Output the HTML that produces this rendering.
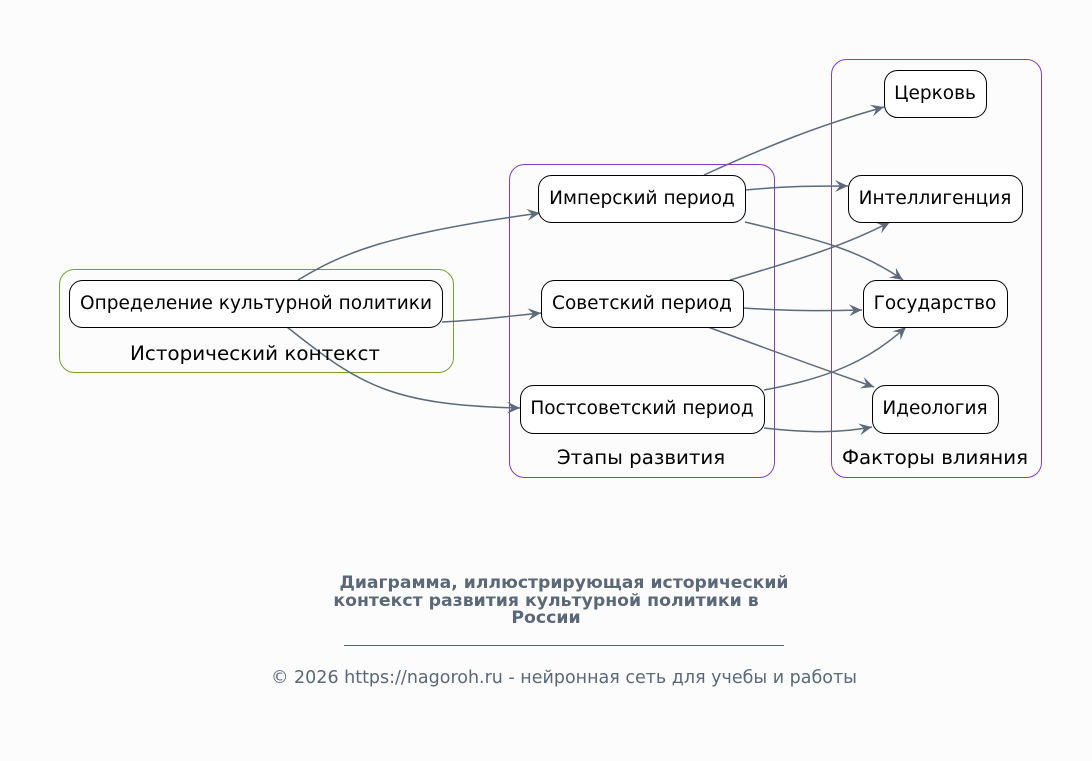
<!DOCTYPE html>
<html><head><meta charset="utf-8"><style>
html,body{margin:0;padding:0;background:#fcfcfc;}
svg{display:block;font-family:"DejaVu Sans","Liberation Sans",sans-serif;}
</style></head><body>
<svg width="1092" height="761" viewBox="0 0 1092 761" xmlns="http://www.w3.org/2000/svg">
<defs>
<marker id="a" viewBox="0 0 14 14" refX="13" refY="7" markerWidth="14" markerHeight="14" markerUnits="userSpaceOnUse" orient="auto">
<path d="M0,1 L13,7 L0,13 L5,7 Z" fill="#5c6a7a"/>
</marker>
</defs>
<rect x="0" y="0" width="1092" height="761" fill="#fcfcfc"/>
<rect x="59.5" y="269.5" width="394" height="103" rx="15" fill="none" stroke="#7aa02c" stroke-width="1"/>
<rect x="509.5" y="164.5" width="265" height="313" rx="15" fill="none" stroke="#7b3fc8" stroke-width="1"/>
<rect x="831.5" y="59.5" width="210" height="418" rx="15" fill="none" stroke="#7b3fc8" stroke-width="1"/>
<g fill="none" stroke="#5c6a7a" stroke-width="1.5" marker-end="url(#a)">
<path d="M298,280 C340,255 380,235 540,213"/>
<path d="M442,322 C480,320 510,316 541,313"/>
<path d="M287,327 C360,385 390,405 520,408"/>
<path d="M704,175 C770,145 820,125 884,107"/>
<path d="M745,190 C790,186 810,186 848,186"/>
<path d="M745,222 C820,240 860,250 903,280"/>
<path d="M730,280 C790,262 840,248 890,222"/>
<path d="M743,308 C790,311 820,311 862,310"/>
<path d="M708,327 C770,350 820,368 874,387"/>
<path d="M764,390 C830,378 870,360 906,327"/>
<path d="M764,428 C810,433 840,433 872,427"/>
</g>
<g fill="#fff" stroke="#000" stroke-width="1">
<rect x="69.5" y="280.5" width="373" height="47" rx="13"/>
<rect x="538.5" y="175.5" width="207" height="47" rx="13"/>
<rect x="541.5" y="280.5" width="202" height="47" rx="13"/>
<rect x="520.5" y="385.5" width="244" height="48" rx="13"/>
<rect x="884.5" y="70.5" width="102" height="47" rx="13"/>
<rect x="848.5" y="175.5" width="174" height="47" rx="13"/>
<rect x="863.5" y="280.5" width="144" height="47" rx="13"/>
<rect x="872.5" y="385.5" width="126" height="48" rx="13"/>
</g>
<g font-size="18.5" fill="#000" text-anchor="middle">
<text x="256" y="309" textLength="352" lengthAdjust="spacingAndGlyphs">Определение культурной политики</text>
<text x="642" y="204">Имперский период</text>
<text x="642" y="309">Советский период</text>
<text x="642" y="414">Постсоветский период</text>
<text x="935" y="99">Церковь</text>
<text x="935" y="204">Интеллигенция</text>
<text x="935" y="309">Государство</text>
<text x="935" y="414">Идеология</text>
<text x="255" y="360" font-size="19.8" textLength="250" lengthAdjust="spacingAndGlyphs">Исторический контекст</text>
<text x="641" y="464" font-size="19.8">Этапы развития</text>
<text x="935" y="464" font-size="19.8">Факторы влияния</text>
</g>
<g font-size="17.3" font-weight="bold" fill="#5a6878" text-anchor="middle">
<text x="564" y="588" textLength="449" lengthAdjust="spacingAndGlyphs">Диаграмма, иллюстрирующая исторический</text>
<text x="546" y="606">контекст развития культурной политики в</text>
<text x="546" y="623">России</text>
</g>
<line x1="344" y1="645.5" x2="784" y2="645.5" stroke="#5a6878" stroke-width="1"/>
<text x="564" y="683" font-size="17.5" fill="#5a6878" text-anchor="middle" textLength="586" lengthAdjust="spacingAndGlyphs">© 2026 https://nagoroh.ru - нейронная сеть для учебы и работы</text>
</svg>
</body></html>
